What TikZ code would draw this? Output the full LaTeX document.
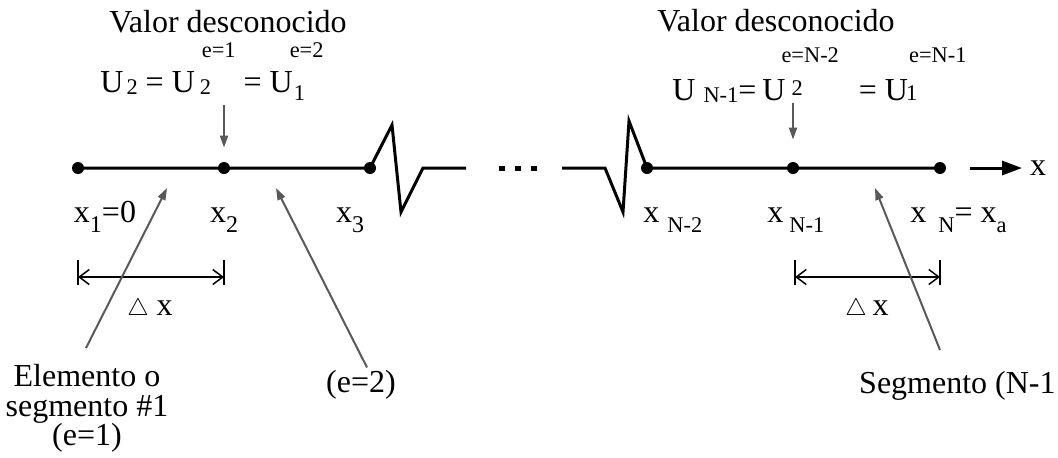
\documentclass[tikz,border=0pt]{standalone}
\usepackage{fontspec}
\setmainfont{Liberation Serif}
\usetikzlibrary{arrows.meta}

\newcommand{\mainsz}{\fontsize{16}{14.8}\selectfont}
\newcommand{\smallsz}{\fontsize{11.2}{11}\selectfont}
\newcommand{\digsz}{\fontsize{12}{12}\selectfont}
\newcommand{\usub}[2][0pt]{\raisebox{-#1}{\smallsz #2}}
\newcommand{\usup}[2][17.5pt]{\raisebox{#1}{\smallsz #2}}
\newcommand{\xsub}[1]{\raisebox{-5pt}{\digsz #1}}
\newcommand{\xsubN}[1]{\raisebox{-5pt}{\smallsz #1}}
\newcommand{\dtri}{{\fontsize{13}{13}\selectfont$\triangle$}}

\begin{document}
\begin{tikzpicture}[x=0.5pt, y=-0.5pt,
  lbl/.style={inner sep=0pt, font=\mainsz},
  dot/.style={circle, fill=black, inner sep=0pt, minimum size=6pt},
  axis/.style={line width=1.5pt, line join=miter},
  axarrow/.style={-{Triangle[length=10pt, width=7pt]}, line width=1.5pt},
  pointer/.style={-{Triangle[length=6pt, width=4pt]}, line width=1pt, draw=black!65, fill=black!65},
  dim/.style={{Straight Barb[length=5pt, width=7.5pt]}-{Straight Barb[length=5pt, width=7.5pt]}, line width=0.75pt},
  tick/.style={line width=0.75pt}]

  \useasboundingbox (0,0) rectangle (1058,457);

  % Nodes on the axis
  \node[dot] (x1) at (78,168) {};
  \node[dot] (x2) at (224,168) {};
  \node[dot] (x3) at (370,168) {};
  \node[dot] (xn2) at (647,168) {};
  \node[dot] (xn1) at (793,168) {};
  \node[dot] (xn) at (940,168) {};

  % Breaks
  \coordinate (bl1) at (392,125);
  \coordinate (bl2) at (401,212);
  \coordinate (bl3) at (423,168);
  \coordinate (bl4) at (466,168);
  \coordinate (br1) at (562,168);
  \coordinate (br2) at (605,168);
  \coordinate (br3) at (623,212);
  \coordinate (br4) at (629,121);

  \draw[axis] (x1.center) -- (x2.center) -- (x3.center) -- (bl1) -- (bl2) -- (bl3) -- (bl4);
  \draw[axis] (br1) -- (br2) -- (br3) -- (br4) -- (xn2.center) -- (xn1.center) -- (xn.center);
  \foreach \d in {502,518,534}
    \fill (\d-3,166) rectangle ++(6,5);

  % x axis arrow
  \coordinate (as) at (970,168);
  \coordinate (ae) at (1022,168);
  \draw[axarrow] (as) -- (ae);
  \node[lbl, anchor=base] (xlab) at (1038,175) {x};

  % Unknown values
  \node[lbl, anchor=base] (vl) at (228,32) {Valor desconocido};
  \node[lbl, anchor=base] (vr) at (776,31) {Valor desconocido};
  \node[lbl, anchor=base west] (eql) at (100,92)
    {U\kern1.5pt\usub[1pt]{2} = U\rlap{\kern2.5pt\usub[1pt]{2}}\kern3.5pt\usup{e=1} = U\rlap{\kern0.5pt\usub[4pt]{1}}\kern-1.5pt\usup{e=2}};
  \node[lbl, anchor=base west] (eqr) at (672,100)
    {U\kern4pt\usub[1pt]{N-1}=\kern3pt U\rlap{\kern3pt\usub[-2.5pt]{2}}\kern-2pt\usup[19pt]{e=N-2}\kern10pt= U\rlap{\kern-1pt\usub{1}}\kern0.5pt\usup[19pt]{e=N-1}};
  \coordinate (al) at (224,105);
  \coordinate (ar) at (793,103);
  \draw[pointer, shorten >=7pt] (al) -- (x2);
  \draw[pointer, shorten >=11pt] (ar) -- (xn1);

  % Node labels
  \node[lbl, anchor=base] (lx1) at (105,222) {x\xsub{1}=0};
  \node[lbl, anchor=base] (lx2) at (224,222) {x\xsub{2}};
  \node[lbl, anchor=base] (lx3) at (350,222) {x\xsub{3}};
  \node[lbl, anchor=base west] (lxn2) at (643,222) {x\kern4pt\xsubN{N-2}};
  \node[lbl, anchor=base west] (lxn1) at (767,222) {x\kern3pt\xsubN{N-1}};
  \node[lbl, anchor=base west] (lxn) at (910,222) {x\kern6pt\xsubN{N}= x\xsubN{a}};

  % Element length
  \draw[tick] (78,260) -- (78,285);
  \draw[tick] (224,260) -- (224,285);
  \coordinate (d1a) at (78,277);
  \coordinate (d1b) at (224,277);
  \draw[dim] (d1a) -- (d1b);
  \node[lbl, anchor=base] (dx1) at (150,315) {\dtri\ x};
  \draw[tick] (795,260) -- (795,285);
  \draw[tick] (940,260) -- (940,285);
  \coordinate (d2a) at (795,277);
  \coordinate (d2b) at (940,277);
  \draw[dim] (d2a) -- (d2b);
  \node[lbl, anchor=base] (dx2) at (867,315) {\dtri\kern3pt x};

  % Element labels
  \node[lbl, align=center, anchor=north] (elem) at (87,364) {Elemento o\\segmento \#1\\(e=1)};
  \node[lbl, anchor=base] (e2) at (361,392) {(e=2)};
  \node[lbl, anchor=base east] (segn) at (1056,393) {Segmento (N-1};
  \coordinate (tA) at (167,188);
  \coordinate (tB) at (276,188);
  \coordinate (tC) at (875,188);
  \coordinate (sC) at (940,350);
  \draw[pointer] ([xshift=-0.5pt, yshift=8pt]elem.north) -- (tA);
  \draw[pointer] ([xshift=3pt, yshift=1pt]e2.north) -- (tB);
  \draw[pointer] (sC) -- (tC);

\end{tikzpicture}
\end{document}
